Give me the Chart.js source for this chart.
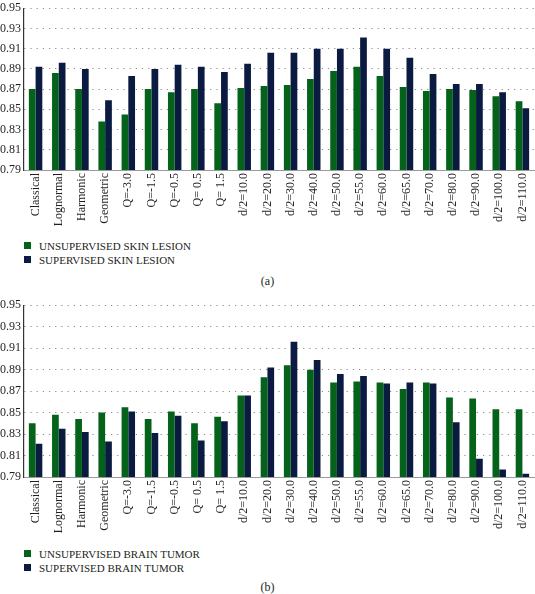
<!DOCTYPE html>
<html>
<head>
<meta charset="utf-8">
<script src="https://cdn.jsdelivr.net/npm/chart.js@4/dist/chart.umd.min.js"></script>
<style>
  html, body { margin:0; padding:0; background:#fff; }
  body { width:535px; height:594px; position:relative; overflow:hidden; font-family:"Liberation Serif","Times New Roman",serif; color:#231f20; }
  canvas { position:absolute; }
  .leg { position:absolute; left:24px; font-size:11px; line-height:14px; }
  .leg div { position:relative; padding-left:15px; white-space:nowrap; }
  .leg span { position:absolute; left:0; top:3px; width:7px; height:7px; }
  .cap { position:absolute; width:535px; text-align:center; font-size:12px; }
</style>
</head>
<body>
<canvas id="ca" width="539" height="232" style="left:-4px; top:-2px;"></canvas>
<div class="leg" style="top:239px;">
  <div><span style="background:#04621a"></span>UNSUPERVISED SKIN LESION</div>
  <div><span style="background:#0b1a40"></span>SUPERVISED SKIN LESION</div>
</div>
<div class="cap" style="top:274px;">(a)</div>

<canvas id="cb" width="539" height="242" style="left:-4px; top:295px;"></canvas>
<div class="leg" style="top:547px;">
  <div><span style="background:#04621a"></span>UNSUPERVISED BRAIN TUMOR</div>
  <div><span style="background:#0b1a40"></span>SUPERVISED BRAIN TUMOR</div>
</div>
<div class="cap" style="top:580px;">(b)</div>

<script>
const categories = ['Classical','Lognormal','Harmonic','Geometric','Q=-3.0','Q=-1.5','Q=-0.5','Q= 0.5','Q= 1.5',
  'd/2=10.0','d/2=20.0','d/2=30.0','d/2=40.0','d/2=50.0','d/2=55.0','d/2=60.0','d/2=65.0','d/2=70.0','d/2=80.0','d/2=90.0','d/2=100.0','d/2=110.0'];

const skinUnsupervised = [0.870,0.886,0.870,0.838,0.845,0.870,0.867,0.870,0.856,0.871,0.873,0.874,0.880,0.888,0.892,0.883,0.872,0.868,0.870,0.869,0.863,0.858];
const skinSupervised   = [0.892,0.896,0.890,0.859,0.883,0.890,0.894,0.892,0.887,0.895,0.906,0.906,0.910,0.910,0.921,0.910,0.901,0.885,0.875,0.875,0.867,0.851];

const brainUnsupervised = [0.840,0.848,0.844,0.850,0.855,0.844,0.851,0.840,0.846,0.866,0.883,0.894,0.890,0.878,0.879,0.878,0.872,0.878,0.864,0.863,0.853,0.853];
const brainSupervised   = [0.821,0.835,0.832,0.823,0.851,0.831,0.847,0.824,0.842,0.866,0.892,0.916,0.899,0.886,0.884,0.877,0.878,0.877,0.841,0.807,0.797,0.793];

const yTickValues = [0.79,0.81,0.83,0.85,0.87,0.89,0.91,0.93,0.95];
const yTickLabels = ['0.79','0.81','0.83','0.85','0.87','0.89','0.91','0.93','0.95'];

const GREEN = '#04621a';
const NAVY = '#0b1a40';
const FONT = '"Liberation Serif", "Times New Roman", serif';
const TXT = '#231f20';

function makeChart(id, labelA, dataA, labelB, dataB) {
  return new Chart(document.getElementById(id), {
    type: 'bar',
    data: {
      labels: categories,
      datasets: [
        { label: labelA, data: dataA, backgroundColor: GREEN, borderWidth: 0 },
        { label: labelB, data: dataB, backgroundColor: NAVY, borderWidth: 0 }
      ]
    },
    options: {
      responsive: false,
      devicePixelRatio: 1,
      animation: false,
      layout: { padding: { left: 0, right: 1, top: 0, bottom: 0 } },
      plugins: { legend: { display: false }, tooltip: { enabled: false } },
      datasets: { bar: { categoryPercentage: 0.58, barPercentage: 1.0 } },
      scales: {
        x: {
          grid: { display: false, drawTicks: false, tickLength: 0 },
          border: { display: true, color: '#9a9a9a', width: 1 },
          ticks: { autoSkip: false, maxRotation: 90, minRotation: 90, padding: 3,
                   color: TXT, font: { family: FONT, size: 12 } },
          afterFit: s => { s.height = 60; s.paddingLeft = 0; s.paddingRight = 0; }
        },
        y: {
          min: 0.79, max: 0.95,
          afterBuildTicks: axis => { axis.ticks = yTickValues.map(v => ({ value: v })); },
          ticks: { padding: 3, color: TXT, font: { family: FONT, size: 12 },
                   callback: (v) => yTickLabels[yTickValues.findIndex(t => Math.abs(t - v) < 1e-6)] },
          grid: { color: '#8c8c8c', lineWidth: 1, drawTicks: false },
          border: { display: true, color: '#333333', width: 1.2, dash: [1.2, 5] },
          afterFit: s => { s.width = 28; }
        }
      }
    }
  });
}

makeChart('ca', 'UNSUPERVISED SKIN LESION', skinUnsupervised, 'SUPERVISED SKIN LESION', skinSupervised);
makeChart('cb', 'UNSUPERVISED BRAIN TUMOR', brainUnsupervised, 'SUPERVISED BRAIN TUMOR', brainSupervised);
</script>
</body>
</html>
